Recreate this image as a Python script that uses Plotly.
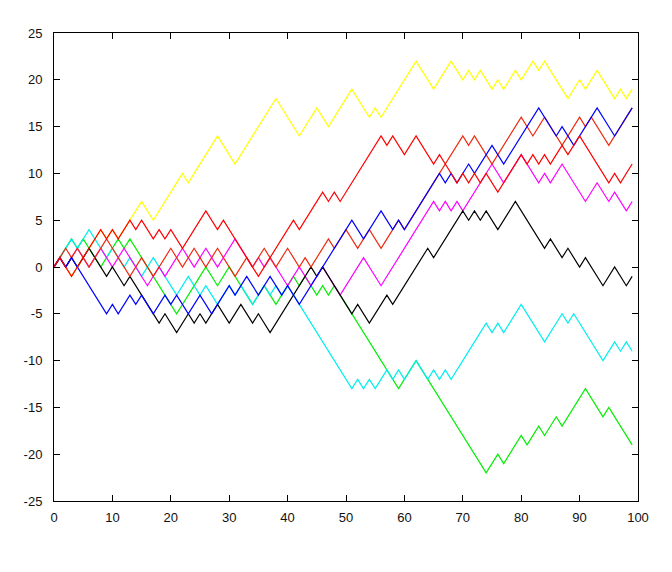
import plotly.graph_objects as go

# Turning points (step, position) of the eight random walks
yellow_x = [0,1,3,8,9,10,11,13,15,17,22,23,28,31,38,42,45,47,51,54,55,56,62,65,68,70,71,72,73,75,76,77,79,80,82,83,84,88,90,91,93,96,97,98,99]
yellow_y = [0,1,-1,4,3,4,3,5,7,5,10,9,14,11,18,14,17,15,19,16,17,16,22,19,22,20,21,20,21,19,20,19,21,20,22,21,22,18,20,19,21,18,19,18,19]

red_x = [0,1,3,8,9,10,11,13,14,15,17,18,19,20,22,26,28,29,35,41,42,46,47,48,49,56,57,58,60,62,65,66,67,69,70,71,72,73,74,76,80,81,82,83,84,85,86,87,88,90,95,96,97,99]
red_y = [0,1,-1,4,3,4,3,5,4,5,3,4,3,4,2,6,4,5,-1,5,4,8,7,8,7,14,13,14,12,14,11,12,11,9,10,9,10,9,10,8,12,11,12,11,12,11,12,13,12,14,9,10,9,11]

red2_x = [0,2,3,4,6,9,10,13,15,17,20,22,24,26,28,31,33,34,36,38,40,42,43,44,47,48,50,52,54,56,58,59,60,66,70,71,72,75,80,82,84,87,90,91,92,95,99]
red2_y = [0,2,1,2,0,3,2,-1,1,-1,2,0,2,0,2,-1,1,0,2,0,2,0,1,0,3,2,4,2,4,2,4,5,4,10,14,13,14,11,16,14,16,13,16,15,16,13,17]

blue_x = [0,1,2,3,9,10,11,13,14,15,17,19,20,21,23,25,27,28,30,31,33,35,37,39,40,42,51,53,56,58,59,60,66,67,68,69,71,72,73,75,77,83,86,87,89,93,96,99]
blue_y = [0,1,0,1,-5,-4,-5,-3,-4,-3,-5,-3,-4,-3,-5,-3,-5,-4,-2,-3,-1,-3,-1,-3,-2,-4,5,3,6,4,5,4,10,9,10,9,11,10,11,13,11,17,14,15,13,17,14,17]

magenta_x = [0,1,2,4,6,8,10,12,14,16,18,19,22,24,26,28,31,34,35,36,37,40,42,44,46,49,53,56,65,66,67,68,69,70,75,77,80,83,84,85,87,91,93,95,96,98,99]
magenta_y = [0,1,0,2,0,2,0,2,0,-2,0,-1,2,0,2,0,3,0,1,0,1,-2,0,-2,0,-3,1,-2,7,6,7,6,7,6,11,9,12,9,10,9,11,7,9,7,8,6,7]

black_x = [0,1,2,3,4,6,9,10,12,13,18,19,21,23,24,25,26,28,30,32,34,35,37,44,45,46,51,52,54,57,58,64,65,70,71,72,73,74,76,79,84,85,87,88,90,91,94,96,98,99]
black_y = [0,1,0,1,0,2,-1,0,-2,-1,-6,-5,-7,-5,-6,-5,-6,-4,-6,-4,-6,-5,-7,0,-1,0,-5,-4,-6,-3,-4,2,1,6,5,6,5,6,4,7,2,3,1,2,0,1,-2,0,-2,-1]

cyan_x = [0,3,4,6,9,10,12,13,15,17,19,21,23,25,26,28,30,31,32,34,36,37,38,39,40,51,52,53,54,55,57,58,59,60,62,64,65,66,67,68,74,75,76,77,80,84,87,88,89,94,96,97,98,99]
cyan_y = [0,3,2,4,1,2,0,1,-1,1,-1,-3,-1,-3,-2,-4,-2,-3,-2,-4,-2,-3,-2,-3,-2,-13,-12,-13,-12,-13,-11,-12,-11,-12,-10,-12,-11,-12,-11,-12,-6,-7,-6,-7,-4,-8,-5,-6,-5,-10,-8,-9,-8,-9]

green_x = [0,3,4,5,8,11,12,13,21,26,28,30,34,36,38,40,41,42,43,45,46,47,48,59,62,74,76,77,80,81,83,84,86,87,91,94,95,99]
green_y = [0,3,2,3,0,3,2,3,-5,0,-2,0,-4,-2,-4,-2,-1,-2,-1,-3,-2,-3,-2,-13,-10,-22,-20,-21,-18,-19,-17,-18,-16,-17,-13,-16,-15,-19]

x_ticks = [0,10,20,30,40,50,60,70,80,90,100]
y_ticks = [-25,-20,-15,-10,-5,0,5,10,15,20,25]

series = [
    (yellow_x, yellow_y, "#ffff00"),
    (green_x, green_y, "#00ee00"),
    (cyan_x, cyan_y, "#00eeee"),
    (magenta_x, magenta_y, "#ff00ff"),
    (black_x, black_y, "#000000"),
    (red2_x, red2_y, "#ee2a10"),
    (blue_x, blue_y, "#0000ff"),
    (red_x, red_y, "#ff0000"),
]

fig = go.Figure()
for xs, ys, c in series:
    fig.add_trace(go.Scatter(x=xs, y=ys, mode="lines",
                             line=dict(color=c, width=1.2),
                             showlegend=False, hoverinfo="skip"))

axis_common = dict(showgrid=False, zeroline=False, showline=True, mirror="ticks",
                   linecolor="#000000", linewidth=1, ticks="inside", ticklen=6,
                   tickcolor="#000000",
                   tickfont=dict(family="Liberation Sans, Arial", size=13, color="#111111"))
fig.update_layout(
    width=672, height=572,
    margin=dict(l=54, r=34, t=33, b=71),
    paper_bgcolor="white", plot_bgcolor="white",
    xaxis=dict(range=[0, 100], tickvals=x_ticks, ticktext=[str(v) for v in x_ticks],
               ticklabelstandoff=4, **axis_common),
    yaxis=dict(range=[-25, 25], tickvals=y_ticks, ticktext=[str(v) for v in y_ticks],
               ticklabelstandoff=8, **axis_common),
)
fig.write_html("out.html")
